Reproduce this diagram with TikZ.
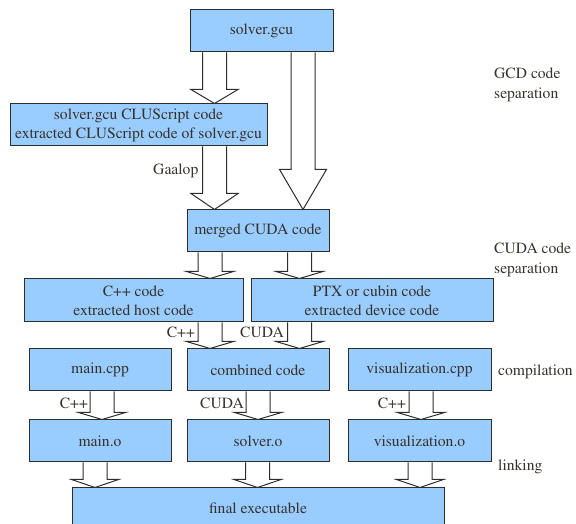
\documentclass[tikz,border=0pt]{standalone}
\usepackage[T1]{fontenc}
\usepackage{times}
\usepackage{tikz}
\usetikzlibrary{calc}
\definecolor{boxBlue}{RGB}{153,204,255}
\definecolor{boxLine}{RGB}{45,45,45}
\definecolor{lblGray}{RGB}{55,50,45}
\tikzset{
  stagebox/.style={draw=boxLine, line width=1pt, fill=boxBlue, text=lblGray,
    align=center, minimum height=42pt, inner sep=0pt,
    font=\rmfamily\fontsize{15.6}{19}\selectfont},
  fatarrow/.style={draw=boxLine, line width=1pt, fill=white, line join=miter},
  sidelabel/.style={text=lblGray, inner sep=1pt, align=left,
    font=\rmfamily\fontsize{15.6}{19.5}\selectfont},
}
\newcommand{\blockarrow}[4]{% from, to, x, head length
  \draw[fatarrow] let \p1=(#1.south), \p2=(#2.north) in
    (#3-12,\y1) -- (#3-12,\y2+#4) -- (#3-23.5,\y2+#4) -- (#3,\y2)
    -- (#3+23.5,\y2+#4) -- (#3+12,\y2+#4) -- (#3+12,\y1);}

\begin{document}
\begin{tikzpicture}[x=1pt,y=1pt]
\useasboundingbox (0,0) rectangle (576,524);
\clip (0,0) rectangle (576,524);

% boxes
\node[stagebox, minimum width=143pt] (gcu) at (261.5,493) {solver.gcu};
\node[stagebox, minimum width=257pt] (clu) at (138.5,399)
  {solver.gcu CLUScript code\\extracted CLUScript code of solver.gcu};
\node[stagebox, minimum width=142pt] (merged) at (258,293) {merged CUDA code};
\node[stagebox, minimum width=219pt, minimum height=43pt] (host) at (133.5,223.5)
  {C++ code\\extracted host code};
\node[stagebox, minimum width=242pt, minimum height=43pt] (device) at (372,223.5)
  {PTX or cubin code\\extracted device code};
\node[stagebox, minimum width=142pt] (maincpp) at (100,154) {main.cpp};
\node[stagebox, minimum width=142pt] (combined) at (258,154) {combined code};
\node[stagebox, minimum width=143pt] (viscpp) at (419.5,154) {visualization.cpp};
\node[stagebox, minimum width=142pt] (maino) at (100,83) {main.o};
\node[stagebox, minimum width=142pt] (solvero) at (258,83) {solver.o};
\node[stagebox, minimum width=143pt] (viso) at (419.5,83) {visualization.o};
\node[stagebox, minimum width=372pt, minimum height=40pt] (final) at (258,16)
  {final executable};

% arrows
\blockarrow{gcu}{clu}{214.5}{14}
\blockarrow{clu}{merged}{214.5}{16}
\blockarrow{gcu}{merged}{303}{40}
\blockarrow{merged}{host}{210}{7}
\blockarrow{merged}{device}{299.5}{7}
\blockarrow{host}{combined}{210}{7}
\blockarrow{device}{combined}{299.5}{7}
\blockarrow{maincpp}{maino}{102}{7}
\blockarrow{combined}{solvero}{258}{7}
\blockarrow{viscpp}{viso}{421}{7}
\blockarrow{maino}{final}{95}{8}
\blockarrow{solvero}{final}{257.5}{8}
\blockarrow{viso}{final}{420}{8}

% labels
\node[sidelabel, anchor=east] (gaalop) at (199.5,353) {Gaalop};
\node[sidelabel, anchor=east] (hostlang) at (196,192) {C++};
\node[sidelabel, anchor=east] (devlang) at (285,192) {CUDA};
\node[sidelabel, anchor=east] (mainlang) at (89,121) {C++};
\node[sidelabel, anchor=east] (solverlang) at (245,121) {CUDA};
\node[sidelabel, anchor=east] (vislang) at (407,121) {C++};

\node[sidelabel, anchor=west] (gcdsep) at (493,439) {GCD code\\separation};
\node[sidelabel, anchor=west] (cudasep) at (493,264) {CUDA code\\separation};
\node[sidelabel, anchor=west] (compile) at (497,152) {compilation};
\node[sidelabel, anchor=west] (link) at (497,57) {linking};
\end{tikzpicture}
\end{document}
